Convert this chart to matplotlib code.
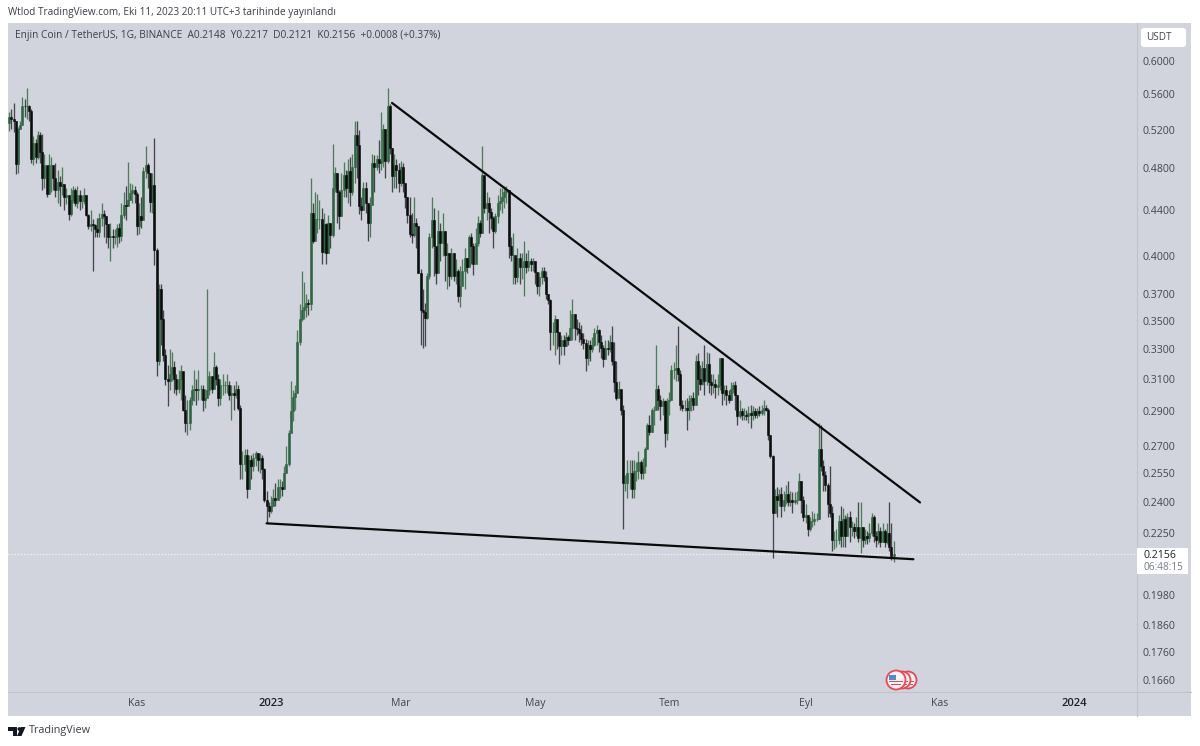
import numpy as np
import pandas as pd
import matplotlib
matplotlib.use("Agg")
import matplotlib.pyplot as plt
import matplotlib.dates as mdates
from matplotlib.patches import Rectangle, Circle, FancyBboxPatch, Polygon
from matplotlib.ticker import NullLocator, NullFormatter

plt.rcParams['font.family'] = ['Open Sans', 'DejaVu Sans']

start_date = '2022-09-04'
first_open = 0.527

closes = [
 .534,.532,.530,.484,.521,.525,.547,.546,.547,.541,
 .490,.506,.492,.515,.497,.471,.483,.455,.483,.483,
 .471,.459,.467,.463,.465,.452,.454,.437,.450,.459,
 .447,.454,.449,.449,.454,.436,.426,.428,.427,.423,
 .421,.433,.437,.435,.428,.416,.417,.416,.416,.424,
 .417,.436,.445,.444,.450,.456,.459,.455,.426,.435,
 .431,.478,.483,.476,.448,.464,.405,.322,.374,.351,
 .326,.310,.309,.313,.318,.310,.304,.310,.315,.291,
 .283,.283,.297,.303,.304,.303,.304,.304,.297,.298,
 .303,.312,.304,.318,.310,.298,.306,.306,.306,.306,
 .300,.301,.300,.304,.292,.260,.260,.265,.247,.262,
 .259,.263,.266,.262,.263,.257,.241,.238,.236,.238,
 .242,.241,.248,.248,.247,.255,.260,.277,.290,.299,
 .301,.335,.351,.358,.360,.363,.362,.438,.413,.432,
 .432,.432,.404,.428,.403,.429,.418,.461,.476,.457,
 .435,.459,.474,.461,.478,.457,.481,.515,.504,.444,
 .440,.461,.447,.429,.445,.486,.481,.490,.486,.488,
 .521,.488,.547,.501,.473,.483,.479,.466,.481,.466,
 .452,.436,.419,.418,.429,.426,.386,.358,.356,.352,
 .384,.416,.431,.409,.386,.422,.411,.422,.401,.403,
 .384,.403,.384,.388,.368,.376,.388,.399,.391,.416,
 .409,.394,.411,.429,.420,.474,.442,.447,.439,.433,
 .422,.435,.447,.449,.452,.457,.459,.409,.401,.401,
 .383,.399,.391,.391,.396,.391,.396,.394,.396,.387,
 .376,.383,.388,.383,.370,.365,.342,.342,.351,.342,
 .332,.336,.332,.338,.336,.345,.355,.345,.344,.341,
 .337,.334,.324,.333,.330,.333,.341,.343,.335,.331,
 .323,.331,.330,.335,.322,.308,.298,.304,.291,.250,
 .250,.255,.255,.247,.256,.256,.261,.255,.259,.268,
 .282,.278,.291,.291,.304,.297,.293,.296,.277,.296,
 .297,.316,.316,.317,.313,.294,.292,.292,.291,.296,
 .298,.294,.322,.310,.307,.317,.309,.320,.308,.306,
 .307,.305,.306,.324,.301,.303,.300,.297,.304,.306,
 .300,.287,.290,.288,.288,.287,.289,.288,.290,.288,
 .290,.289,.291,.292,.291,.276,.264,.235,.243,.241,
 .244,.238,.241,.244,.240,.241,.240,.241,.241,.251,
 .241,.233,.234,.227,.231,.231,.232,.232,.268,.259,
 .254,.249,.239,.235,.222,.222,.222,.231,.224,.232,
 .224,.233,.228,.228,.226,.228,.223,.228,.222,
 .224,.223,.225,.233,.224,.222,.226,.221,.226,.221,.225,.219,.2148,.2156,
]
highs = [
 .540,.543,.550,.530,.523,.530,.557,.554,.567,.548,
 .543,.513,.510,.519,.518,.516,.495,.481,.495,.492,
 .479,.486,.479,.473,.481,.463,.461,.454,.461,.463,
 .461,.463,.459,.454,.461,.454,.437,.440,.432,.428,
 .433,.438,.447,.440,.435,.428,.429,.423,.423,.428,
 .429,.447,.457,.463,.487,.466,.465,.463,.457,.447,
 .452,.481,.503,.486,.476,.476,.511,.407,.378,.378,
 .358,.330,.319,.330,.328,.322,.313,.316,.319,.313,
 .300,.297,.299,.306,.316,.310,.316,.306,.306,.304,
 .374,.315,.310,.328,.319,.313,.310,.313,.309,.313,
 .309,.306,.306,.309,.306,.294,.267,.268,.268,.265,
 .265,.266,.267,.266,.266,.265,.258,.246,.240,.243,
 .247,.250,.252,.252,.251,.259,.270,.279,.309,.303,
 .306,.343,.362,.388,.379,.370,.366,.471,.447,.457,
 .455,.450,.442,.438,.429,.436,.429,.505,.481,.476,
 .459,.476,.487,.479,.490,.492,.495,.530,.530,.520,
 .452,.467,.467,.447,.452,.495,.494,.494,.509,.540,
 .526,.521,.567,.549,.501,.495,.490,.486,.488,.486,
 .466,.452,.452,.438,.452,.433,.426,.390,.374,.363,
 .386,.420,.452,.442,.407,.440,.429,.438,.422,.411,
 .403,.407,.403,.398,.390,.392,.398,.407,.399,.418,
 .420,.411,.424,.435,.431,.503,.474,.457,.452,.442,
 .435,.438,.454,.461,.461,.463,.463,.459,.416,.420,
 .399,.407,.403,.403,.413,.403,.405,.399,.399,.396,
 .387,.387,.391,.391,.388,.370,.366,.349,.354,.351,
 .342,.340,.340,.342,.340,.358,.366,.355,.351,.349,
 .347,.341,.337,.336,.336,.338,.345,.347,.344,.340,
 .333,.336,.336,.340,.346,.335,.322,.309,.300,.294,
 .254,.262,.262,.262,.262,.261,.267,.262,.263,.269,
 .283,.288,.292,.293,.333,.306,.300,.298,.297,.298,
 .302,.319,.321,.333,.346,.316,.297,.297,.298,.300,
 .300,.302,.326,.327,.319,.322,.333,.328,.327,.313,
 .313,.310,.313,.324,.322,.306,.306,.303,.308,.308,
 .309,.300,.297,.292,.292,.291,.293,.294,.293,.292,
 .292,.293,.294,.297,.294,.292,.276,.265,.247,.248,
 .247,.248,.246,.249,.251,.246,.245,.245,.246,.255,
 .251,.243,.239,.234,.233,.236,.235,.235,.283,.282,
 .262,.256,.250,.259,.238,.226,.227,.234,.238,.237,
 .234,.235,.236,.231,.230,.233,.240,.240,.228,
 .227,.226,.230,.235,.234,.226,.230,.228,.230,.227,.230,.240,.230,.2217,
]
lows = [
 .519,.521,.518,.475,.476,.521,.526,.534,.532,.530,
 .486,.483,.486,.490,.486,.459,.461,.452,.461,.457,
 .459,.452,.447,.444,.454,.440,.446,.431,.435,.447,
 .444,.442,.440,.442,.446,.435,.423,.422,.388,.416,
 .416,.416,.426,.416,.411,.407,.396,.407,.410,.408,
 .411,.413,.433,.431,.444,.450,.447,.447,.418,.419,
 .424,.447,.471,.461,.439,.438,.393,.312,.319,.333,
 .322,.306,.293,.303,.309,.301,.300,.301,.297,.290,
 .278,.276,.279,.294,.296,.294,.297,.297,.290,.292,
 .301,.300,.301,.306,.306,.293,.294,.300,.301,.301,
 .297,.285,.291,.298,.291,.252,.252,.256,.242,.248,
 .252,.256,.259,.256,.255,.252,.240,.230,.233,.235,
 .238,.238,.241,.242,.243,.248,.255,.259,.282,.284,
 .291,.325,.333,.350,.351,.353,.354,.358,.411,.416,
 .420,.423,.394,.403,.394,.403,.407,.416,.457,.429,
 .423,.435,.452,.452,.447,.444,.454,.466,.471,.437,
 .431,.440,.438,.413,.416,.455,.457,.479,.476,.479,
 .481,.471,.486,.495,.457,.461,.461,.457,.463,.457,
 .442,.429,.416,.411,.416,.407,.386,.333,.331,.332,
 .351,.382,.407,.384,.378,.400,.396,.400,.380,.374,
 .376,.382,.380,.378,.364,.360,.378,.374,.386,.391,
 .394,.385,.400,.409,.416,.420,.438,.431,.420,.423,
 .407,.420,.429,.440,.438,.442,.447,.399,.396,.378,
 .378,.379,.378,.382,.368,.386,.388,.388,.388,.378,
 .370,.368,.378,.380,.366,.362,.329,.333,.326,.330,
 .320,.326,.326,.332,.333,.336,.336,.336,.340,.335,
 .333,.330,.315,.319,.322,.328,.332,.333,.328,.324,
 .318,.326,.326,.328,.319,.302,.297,.300,.288,.227,
 .246,.242,.247,.242,.242,.251,.252,.252,.252,.255,
 .268,.276,.278,.282,.294,.291,.285,.288,.269,.273,
 .288,.297,.310,.309,.309,.291,.290,.290,.279,.285,
 .290,.291,.294,.300,.303,.306,.300,.306,.301,.300,
 .301,.298,.300,.303,.294,.297,.294,.295,.297,.301,
 .291,.282,.286,.285,.285,.285,.283,.280,.285,.286,
 .286,.287,.288,.288,.290,.273,.263,.214,.235,.233,
 .238,.233,.236,.239,.238,.238,.235,.239,.239,.241,
 .235,.231,.230,.224,.226,.228,.229,.231,.232,.256,
 .246,.246,.233,.233,.217,.218,.219,.220,.219,.219,
 .219,.226,.221,.224,.223,.224,.221,.216,.219,
 .220,.220,.221,.224,.221,.219,.220,.219,.221,.219,.220,.217,.213,.2121,
]

price_ticks = [0.6, 0.56, 0.52, 0.48, 0.44, 0.40, 0.37, 0.35, 0.33, 0.31,
               0.29, 0.27, 0.255, 0.24, 0.225, 0.198, 0.186, 0.176, 0.166]
date_ticks = ['2022-11-01', '2023-01-01', '2023-03-01', '2023-05-01',
              '2023-07-01', '2023-09-01', '2023-11-01', '2024-01-01']
date_labels = ['Kas', '2023', 'Mar', 'May', 'Tem', 'Eyl', 'Kas', '2024']
upper_line_dates = ['2023-02-25', '2023-10-23']
upper_line_prices = [0.550, 0.240]
lower_line_dates = ['2022-12-30', '2023-10-20']
lower_line_prices = [0.2298, 0.2133]
last_price = 0.2156

W, H = 1200, 746
BG = '#d1d4dc'
SEP = '#bfc2cb'
TXT = '#434651'
fig = plt.figure(figsize=(W / 100, H / 100), dpi=100, facecolor='white')

def px_axes(x0, y0, x1, y1, **kw):
    return fig.add_axes([x0 / W, 1 - y1 / H, (x1 - x0) / W, (y1 - y0) / H], **kw)

# chrome in pixel coordinates
chrome = px_axes(0, 0, W, H, zorder=0)
chrome.set_xlim(0, W); chrome.set_ylim(H, 0); chrome.axis('off')
chrome.add_patch(Rectangle((8, 23), 1183, 693, fc=BG, ec='none'))
chrome.plot([1137, 1137], [23, 716], color=SEP, lw=0.8)
chrome.plot([8, 1191], [692, 692], color=SEP, lw=0.8)

# price chart
ax = px_axes(8, 23, 1137, 692, zorder=1)
ax.patch.set_alpha(0)
for s in ax.spines.values():
    s.set_visible(False)

dates = pd.date_range(start_date, periods=len(closes))
xs = mdates.date2num(dates)
c = np.array(closes); h = np.array(highs); l = np.array(lows)
o = np.r_[first_open, c[:-1]]
up = c >= o

ax.vlines(xs[up], l[up], h[up], color='#4f7d5b', lw=0.95, zorder=2)
ax.vlines(xs[~up], l[~up], h[~up], color='#45474d', lw=0.95, zorder=2)
ax.bar(xs[up], np.abs(c - o)[up], bottom=np.minimum(c, o)[up], width=0.85,
       color='#2e6440', edgecolor='#2e6440', lw=0.4, zorder=3)
ax.bar(xs[~up], np.abs(c - o)[~up], bottom=np.minimum(c, o)[~up], width=0.85,
       color='#0a0c0a', edgecolor='#0a0c0a', lw=0.4, zorder=3)

ax.set_yscale('log')
jan1 = mdates.date2num(pd.Timestamp('2023-01-01'))
ax.set_xlim(jan1 + (8 - 271) / 2.2, jan1 + (1137 - 271) / 2.2)
ax.set_ylim(0.166 * np.exp(-12 / 481.7), 0.6 * np.exp(38 / 481.7))

ax.axhline(last_price, color='#f4f5f7', lw=0.9, ls=(0, (1, 1.5)), zorder=1)
ax.plot(mdates.date2num(pd.to_datetime(upper_line_dates)), upper_line_prices,
        color='#0a0a0a', lw=1.6, zorder=5, solid_capstyle='round')
ax.plot(mdates.date2num(pd.to_datetime(lower_line_dates)), lower_line_prices,
        color='#0a0a0a', lw=1.6, zorder=5, solid_capstyle='round')

ax.yaxis.tick_right()
ax.yaxis.set_major_locator(matplotlib.ticker.FixedLocator(price_ticks))
ax.yaxis.set_major_formatter(matplotlib.ticker.FuncFormatter(lambda v, p: f'{v:.4f}'))
ax.yaxis.set_minor_locator(NullLocator())
ax.yaxis.set_minor_formatter(NullFormatter())
ax.tick_params(axis='y', length=0, pad=3.9, labelsize=7.6, labelcolor=TXT)

ax.set_xticks(mdates.date2num(pd.to_datetime(date_ticks)))
ax.set_xticklabels(date_labels)
ax.tick_params(axis='x', length=0, pad=4.5, labelsize=7.6, labelcolor=TXT)
for lab in ax.get_xticklabels():
    if lab.get_text().isdigit():
        lab.set_color('#1f2128')
        lab.set_fontweight('semibold')
        lab.set_fontsize(8)

# overlay in pixel coordinates
ov = px_axes(0, 0, W, H, zorder=3)
ov.set_xlim(0, W); ov.set_ylim(H, 0); ov.axis('off'); ov.patch.set_alpha(0)

ov.text(8, 12.5, 'Wtlod TradingView.com, Eki 11, 2023 20:11 UTC+3 tarihinde yayınlandı',
        fontsize=7.22, color='#3b3e46', va='center', ha='left')
ov.text(15, 35.5, 'Enjin Coin / TetherUS, 1G, BINANCE  A0.2148  Y0.2217  D0.2121  K0.2156  +0.0008 (+0.37%)',
        fontsize=7.25, color='#3b3e46', va='center', ha='left')

ov.add_patch(FancyBboxPatch((1142, 29), 43, 17, boxstyle='round,pad=0,rounding_size=2',
                            fc='white', ec='white', lw=1.5))
ov.text(1159, 38, 'USDT', fontsize=7.2, color=TXT, ha='center', va='center')

ov.add_patch(Rectangle((1137, 548), 51, 26, fc='white', ec='none'))
ov.text(1143, 555, f'{last_price:.4f}', fontsize=7.6, color='#1f2128', va='center', ha='left')
ov.text(1143, 567, '06:48:15', fontsize=7.2, color='#787b86', va='center', ha='left')

# economic event flags
for cx, cy, r in [(908, 680, 8.5), (902, 680, 8.5), (896, 680, 9.5)]:
    ov.add_patch(Circle((cx, cy), r, fc='#f2f3f5', ec='#ef4450', lw=1.3))
    ov.add_patch(Rectangle((cx - r * 0.7, cy + 1), r * 1.4, 1.4, fc='#ef4450', ec='none'))
    ov.add_patch(Rectangle((cx - r * 0.55, cy + 4), r * 1.1, 1.3, fc='#ef4450', ec='none'))
    ov.add_patch(Rectangle((cx - r * 0.7, cy - 5), r * 0.7, 5, fc='#3f8fdc', ec='none'))

# TradingView logo
ov.add_patch(Polygon([(8, 727), (17, 727), (17, 736), (12.5, 736), (12.5, 731), (8, 731)],
                     fc='#131722', ec='none'))
ov.add_patch(Circle((19.4, 729), 1.9, fc='#131722', ec='none'))
ov.add_patch(Polygon([(21, 727), (25.5, 727), (21.5, 736), (17, 736)], fc='#131722', ec='none'))
ov.text(29, 731, 'TradingView', fontsize=7.8, color='#3b3e46', va='center', ha='left')

fig.savefig('out.png', dpi=100, facecolor='white')
